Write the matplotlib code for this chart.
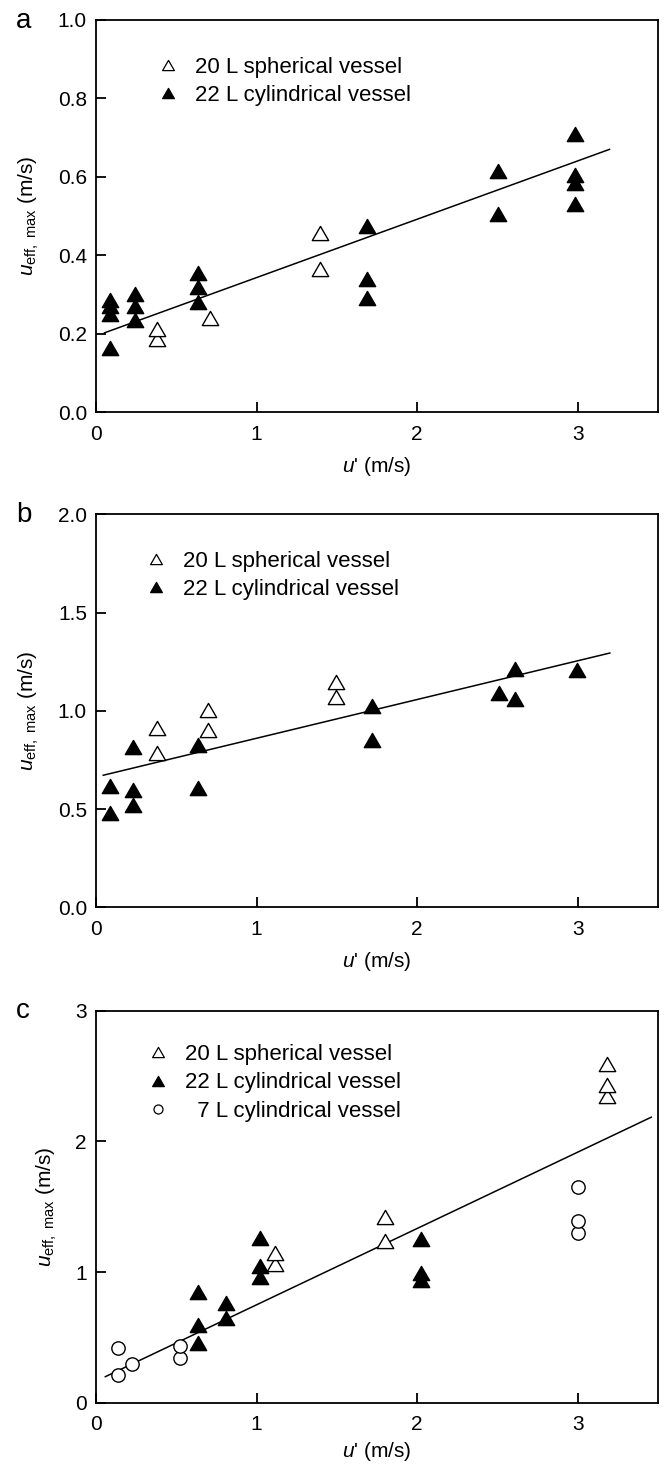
import numpy as np
import matplotlib
matplotlib.use("Agg")
import matplotlib.pyplot as plt
from matplotlib.path import Path
from matplotlib.lines import Line2D

plt.rcParams['font.family'] = ['Liberation Sans', 'DejaVu Sans']
plt.rcParams['mathtext.fontset'] = 'custom'
plt.rcParams['mathtext.rm'] = 'Liberation Sans'
plt.rcParams['mathtext.it'] = 'Liberation Sans:italic'

# ---------------- data ----------------
# panel a
a_sph_x = [0.38, 0.38, 0.71, 1.395, 1.395]
a_sph_y = [0.185, 0.213, 0.24, 0.365, 0.456]
a_cyl_x = [0.085, 0.085, 0.085, 0.085, 0.24, 0.24, 0.24, 0.635, 0.635, 0.635,
           1.69, 1.69, 1.69, 2.505, 2.505, 2.98, 2.98, 2.98, 2.98]
a_cyl_y = [0.163, 0.25, 0.27, 0.285, 0.235, 0.27, 0.30, 0.28, 0.32, 0.355,
           0.29, 0.34, 0.475, 0.505, 0.615, 0.53, 0.585, 0.605, 0.71]
a_fit_x = [0.053, 3.198]
a_fit_y = [0.202, 0.670]
a_yticks = [0.0, 0.2, 0.4, 0.6, 0.8, 1.0]
a_yticklabels = ['0.0', '0.2', '0.4', '0.6', '0.8', '1.0']

# panel b
b_sph_x = [0.38, 0.38, 0.70, 0.70, 1.495, 1.495]
b_sph_y = [0.785, 0.91, 0.90, 1.005, 1.07, 1.145]
b_cyl_x = [0.085, 0.085, 0.23, 0.23, 0.23, 0.635, 0.635, 1.72, 1.72, 2.51,
           2.61, 2.61, 2.995]
b_cyl_y = [0.48, 0.615, 0.52, 0.595, 0.815, 0.605, 0.825, 0.85, 1.025, 1.09,
           1.06, 1.215, 1.21]
b_fit_x = [0.045, 3.20]
b_fit_y = [0.672, 1.294]
b_yticks = [0.0, 0.5, 1.0, 1.5, 2.0]
b_yticklabels = ['0.0', '0.5', '1.0', '1.5', '2.0']

# panel c
c_sph_x = [1.115, 1.115, 1.80, 1.80, 3.185, 3.185, 3.185]
c_sph_y = [1.06, 1.145, 1.24, 1.42, 2.35, 2.435, 2.59]
c_cyl_x = [0.635, 0.635, 0.635, 0.81, 0.81, 1.02, 1.02, 1.02, 2.025, 2.025, 2.025]
c_cyl_y = [0.455, 0.595, 0.85, 0.645, 0.765, 0.965, 1.045, 1.26, 0.94, 0.995, 1.25]
c_cyl7_x = [0.14, 0.14, 0.225, 0.525, 0.525, 3.0, 3.0, 3.0]
c_cyl7_y = [0.21, 0.42, 0.295, 0.345, 0.435, 1.30, 1.39, 1.65]
c_fit_x = [0.058, 3.458]
c_fit_y = [0.199, 2.185]
c_yticks = [0, 1, 2, 3]
c_yticklabels = ['0', '1', '2', '3']

xticks = [0, 1, 2, 3]
xticklabels = ['0', '1', '2', '3']

lab_sph = '20 L spherical vessel'
lab_cyl = '22 L cylindrical vessel'
lab_cyl7 = '  7 L cylindrical vessel'
panel_letters = ['a', 'b', 'c']

# ---------------- style ----------------
W, H = 665, 1464
fig = plt.figure(figsize=(W / 100, H / 100), dpi=100)

tri = Path([(-1, -0.866), (1, -0.866), (0, 0.866), (-1, -0.866)],
           [Path.MOVETO, Path.LINETO, Path.LINETO, Path.CLOSEPOLY])

# axes boxes in pixels: left, top, right, bottom
boxes = [(96, 20, 658, 412), (96, 514.3, 658, 907.3), (96, 1010.7, 658, 1402.7)]
ylims = [(0, 1.0), (0, 2.0), (0, 3.0)]
leg_anchor = [(0.108, 0.906), (0.087, 0.907), (0.091, 0.915)]
letter_base = [28, 522, 1018]
xlabelpads = [8, 8, 4.5]

MS = 11.8
LMS = 8.5
FS = 15
LFS = 16

def make_ax(i):
    l, t, r, b = boxes[i]
    ax = fig.add_axes([l / W, 1 - b / H, (r - l) / W, (b - t) / H])
    ax.set_xlim(0, 3.5)
    ax.set_ylim(*ylims[i])
    for s in ax.spines.values():
        s.set_linewidth(1.3)
    ax.tick_params(direction='in', length=7, width=1.3, labelsize=FS,
                   top=False, right=False)
    ax.tick_params(axis='x', pad=9)
    ax.tick_params(axis='y', pad=6.5)
    ax.set_xticks(xticks)
    ax.set_xticklabels(xticklabels)
    ax.set_xlabel(r"$u$' (m/s)", fontsize=FS, labelpad=xlabelpads[i])
    ax.set_ylabel(r"$u_{\mathrm{eff,\ max}}$ (m/s)", fontsize=FS, labelpad=12)
    fig.text(16 / W, 1 - letter_base[i] / H, panel_letters[i], fontsize=20,
             ha='left', va='baseline')
    return ax

def open_tri(ax, x, y):
    ax.plot(x, y, linestyle='none', marker=tri, markersize=MS,
            markerfacecolor='white', markeredgecolor='black',
            markeredgewidth=1.0, zorder=3)

def fill_tri(ax, x, y):
    ax.plot(x, y, linestyle='none', marker=tri, markersize=MS,
            markerfacecolor='black', markeredgecolor='black',
            markeredgewidth=1.0, zorder=3)

def fit_line(ax, x, y):
    ax.plot(x, y, color='black', linewidth=1.1, zorder=2)

h_sph = Line2D([], [], linestyle='none', marker=tri, markersize=LMS,
               markerfacecolor='white', markeredgecolor='black', markeredgewidth=0.9)
h_cyl = Line2D([], [], linestyle='none', marker=tri, markersize=LMS,
               markerfacecolor='black', markeredgecolor='black', markeredgewidth=0.9)
h_cyl7 = Line2D([], [], linestyle='none', marker='o', markersize=6.5,
                markerfacecolor='white', markeredgecolor='black', markeredgewidth=0.9)

def legend(ax, i, handles, labels):
    ax.legend(handles, labels, loc='upper left', bbox_to_anchor=leg_anchor[i],
              frameon=False, fontsize=LFS, handlelength=1.0, handletextpad=0.72,
              borderpad=0, borderaxespad=0, labelspacing=0.33)

# panel a
ax = make_ax(0)
ax.set_yticks(a_yticks)
ax.set_yticklabels(a_yticklabels)
fit_line(ax, a_fit_x, a_fit_y)
open_tri(ax, a_sph_x, a_sph_y)
fill_tri(ax, a_cyl_x, a_cyl_y)
legend(ax, 0, [h_sph, h_cyl], [lab_sph, lab_cyl])

# panel b
ax = make_ax(1)
ax.set_yticks(b_yticks)
ax.set_yticklabels(b_yticklabels)
fit_line(ax, b_fit_x, b_fit_y)
open_tri(ax, b_sph_x, b_sph_y)
fill_tri(ax, b_cyl_x, b_cyl_y)
legend(ax, 1, [h_sph, h_cyl], [lab_sph, lab_cyl])

# panel c
ax = make_ax(2)
ax.set_yticks(c_yticks)
ax.set_yticklabels(c_yticklabels)
fit_line(ax, c_fit_x, c_fit_y)
open_tri(ax, c_sph_x, c_sph_y)
fill_tri(ax, c_cyl_x, c_cyl_y)
ax.plot(c_cyl7_x, c_cyl7_y, linestyle='none', marker='o', markersize=9.6,
        markerfacecolor='white', markeredgecolor='black', markeredgewidth=1.0,
        zorder=3)
legend(ax, 2, [h_sph, h_cyl, h_cyl7], [lab_sph, lab_cyl, lab_cyl7])

fig.savefig('out.png', dpi=100)
